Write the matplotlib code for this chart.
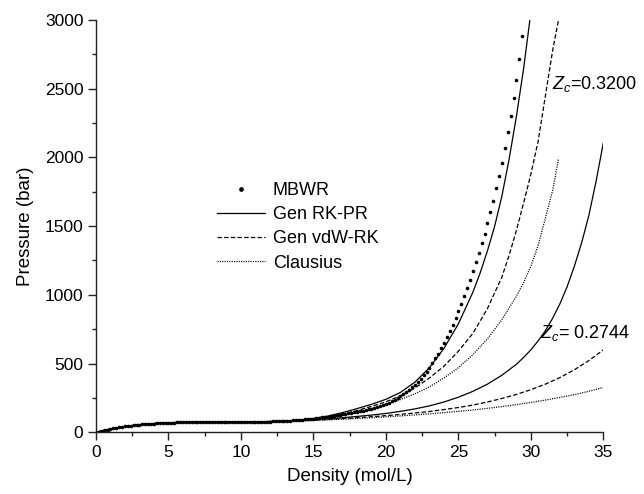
import numpy as np
import matplotlib
matplotlib.use("Agg")
import matplotlib.pyplot as plt
from matplotlib.ticker import MultipleLocator

plt.rcParams['font.family'] = ['Liberation Sans', 'DejaVu Sans']
plt.rcParams['mathtext.fontset'] = 'custom'
plt.rcParams['mathtext.it'] = 'Liberation Sans:italic'
plt.rcParams['mathtext.rm'] = 'Liberation Sans'
plt.rcParams['lines.scale_dashes'] = False

# ---------------- data ----------------
mbwr_density = np.round(np.arange(148) * 0.2, 1)
mbwr_pressure = [
    0, 5, 10, 15, 19.5, 24, 28, 32, 35.5, 39,
    42, 45, 48, 50.5, 53, 55, 57, 59, 60.5, 62,
    63.5, 65, 66, 67, 68, 69, 70, 70.5, 71.5, 72,
    72.5, 73, 73.5, 74, 74.5, 74.5, 75, 75, 75.5, 75.5,
    76, 76, 76, 76, 76, 76, 76, 76, 76, 76,
    76, 76, 76, 76, 76, 76, 76.5, 76.5, 77, 77.5,
    78, 78.5, 79, 80, 81, 82, 83.5, 85, 86.5, 88,
    90, 92, 94, 96, 98, 100, 102.5, 105, 107.5, 110,
    113, 116, 119.5, 123, 126.5, 130, 134, 138, 142, 146,
    150, 154, 158, 162, 166, 170, 176, 183, 190, 197,
    205, 215, 226, 237, 249, 262, 277, 292, 308, 326,
    345, 367, 390, 415, 442, 470, 503, 537, 573, 611,
    650, 692, 736, 782, 830, 880, 935, 992, 1050, 1110,
    1170, 1236, 1304, 1374, 1446, 1520, 1602, 1686, 1774, 1866,
    1960, 2070, 2185, 2305, 2430, 2560, 2715, 2880,
]

low_density = [0, 1, 2, 3, 4, 5, 6, 7, 8, 9, 10, 11, 12]
low_pressure = [0, 24, 42, 55, 63.5, 69, 72.5, 74.5, 76, 76, 76, 76, 78]

# Zc = 0.3200 family
rkpr_a_density = low_density + [13, 14, 15, 16, 17, 18, 19, 20, 21, 22, 23, 24, 25, 26,
                                26.5, 27, 27.5, 28, 28.5, 29, 29.5, 30]
rkpr_a_pressure = low_pressure + [80, 88, 100, 118, 143, 172, 203, 240, 290, 365, 470, 610,
                                  790, 1020, 1160, 1320, 1500, 1720, 1990, 2300, 2650, 3060]

vdw_a_density = low_density + [13, 14, 15, 16, 17, 18, 19, 20, 21, 22, 23, 24, 25, 26, 27,
                               28, 28.5, 29, 29.5, 30, 30.5, 31, 31.5, 31.9]
vdw_a_pressure = low_pressure + [80, 87, 97, 112, 132, 158, 188, 222, 265, 322, 395, 480,
                                 590, 720, 900, 1130, 1290, 1470, 1670, 1880, 2120, 2450,
                                 2780, 3000]

cla_a_density = low_density + [13, 14, 15, 16, 17, 18, 19, 20, 21, 22, 23, 24, 25, 26, 27,
                               28, 29, 29.5, 30, 30.5, 31, 31.5, 31.9]
cla_a_pressure = low_pressure + [80, 86, 95, 108, 125, 147, 172, 202, 238, 280, 330, 395,
                                 470, 565, 680, 820, 990, 1090, 1210, 1360, 1560, 1760, 1990]

# Zc = 0.2744 family
rkpr_b_density = low_density + [13, 14, 15, 16, 17, 18, 19, 20, 21, 22, 23, 24, 25, 26, 27,
                                28, 29, 29.5, 30, 30.5, 31, 31.5, 32, 32.5, 33, 33.5, 34,
                                34.5, 35]
rkpr_b_pressure = low_pressure + [80, 85, 91, 98, 106, 115, 125, 137, 152, 170, 192, 220,
                                  255, 298, 350, 415, 495, 545, 600, 665, 740, 830, 935,
                                  1060, 1210, 1380, 1580, 1830, 2110]

vdw_b_density = low_density + [13, 14, 15, 16, 17, 18, 19, 20, 21, 22, 23, 24, 25, 26, 27,
                               28, 29, 30, 31, 32, 33, 34, 35]
vdw_b_pressure = low_pressure + [79, 83, 88, 93, 99, 106, 113, 121, 130, 140, 151, 165, 180,
                                 198, 220, 246, 275, 310, 350, 398, 455, 522, 600]

cla_b_density = low_density + [13, 14, 15, 16, 17, 18, 19, 20, 21, 22, 23, 24, 25, 26, 27,
                               28, 29, 30, 31, 32, 33, 34, 35]
cla_b_pressure = low_pressure + [79, 82, 86, 90, 95, 100, 106, 112, 119, 126, 134, 143, 152,
                                 162, 174, 187, 201, 217, 234, 253, 274, 298, 326]

legend_labels = ["MBWR", "Gen RK-PR", "Gen vdW-RK", "Clausius"]
zc_labels = ["$Z_c$=0.3200", "$Z_c$= 0.2744"]

# ---------------- plot ----------------
fig = plt.figure(figsize=(6.44, 4.94), dpi=100)
ax = fig.add_axes([0.149, 0.125, 0.788, 0.8345])

lw = 0.9
dash = (0, (3.2, 1.6))
dot = (0, (0.8, 0.9))
col = 'black'

h_mbwr, = ax.plot(mbwr_density, mbwr_pressure, linestyle='none', marker='o',
                  markersize=2.6, color=col, markeredgewidth=0)
h_rk, = ax.plot(rkpr_a_density, rkpr_a_pressure, '-', color=col, lw=lw)
h_vdw, = ax.plot(vdw_a_density, vdw_a_pressure, linestyle=dash, color=col, lw=lw)
h_cla, = ax.plot(cla_a_density, cla_a_pressure, linestyle=dot, color=col, lw=lw)
ax.plot(rkpr_b_density, rkpr_b_pressure, '-', color=col, lw=lw)
ax.plot(vdw_b_density, vdw_b_pressure, linestyle=dash, color=col, lw=lw)
ax.plot(cla_b_density, cla_b_pressure, linestyle=dot, color=col, lw=lw)

ax.set_xlim(0, 35)
ax.set_ylim(0, 3000)
ax.xaxis.set_major_locator(MultipleLocator(5))
ax.xaxis.set_minor_locator(MultipleLocator(2.5))
ax.yaxis.set_major_locator(MultipleLocator(500))
ax.yaxis.set_minor_locator(MultipleLocator(250))
for s in ['top', 'right']:
    ax.spines[s].set_visible(False)
for s in ['left', 'bottom']:
    ax.spines[s].set_linewidth(1.0)
    ax.spines[s].set_color('#222222')
ax.tick_params(which='major', direction='out', length=6, width=1.0,
               labelsize=12.5, color='#222222', pad=3)
ax.tick_params(which='minor', direction='out', length=3.2, width=1.0, color='#222222')

ax.set_xlabel("Density (mol/L)", fontsize=13.5, labelpad=6)
ax.set_ylabel("Pressure (bar)", fontsize=13.5, labelpad=8)

ax.legend([h_mbwr, h_rk, h_vdw, h_cla], legend_labels, frameon=False,
          fontsize=13, handlelength=2.64, handletextpad=0.43, labelspacing=0.4,
          markerscale=1.3, loc='upper left', bbox_to_anchor=(0.239, 0.607),
          borderaxespad=0, borderpad=0)

ax.text(31.45, 2500, zc_labels[0], fontsize=13, va='baseline', ha='left')
ax.text(30.6, 685, zc_labels[1], fontsize=13, va='baseline', ha='left')

fig.savefig("out.png", dpi=100)
